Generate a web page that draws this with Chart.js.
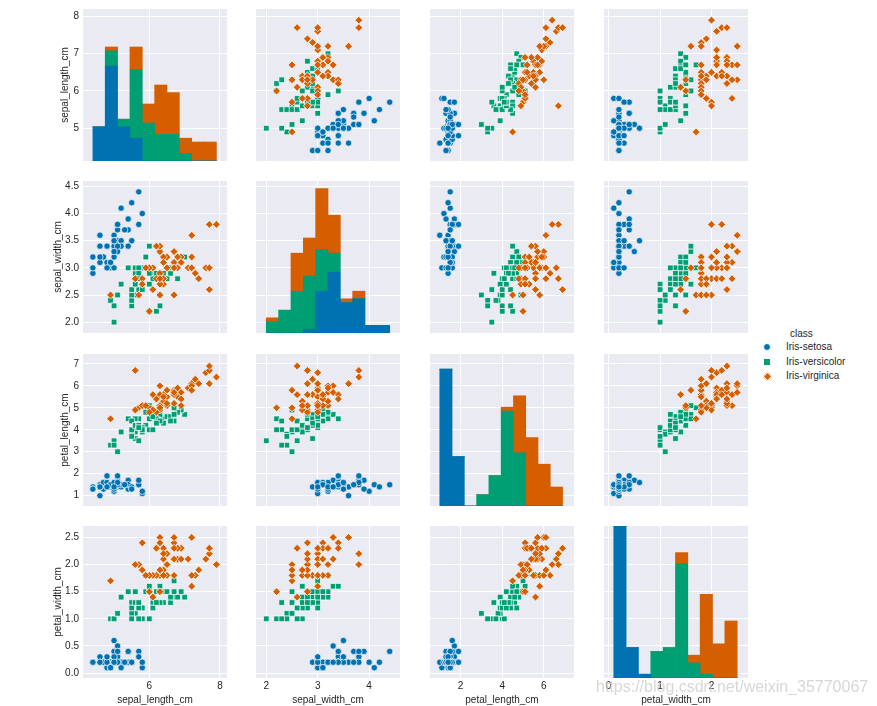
<!DOCTYPE html>
<html>
<head>
<meta charset="utf-8">
<script src="https://cdn.jsdelivr.net/npm/chart.js@4.4.0/dist/chart.umd.min.js"></script>
<style>
  body { margin: 0; background: #fff; width: 877px; height: 706px; position: relative; overflow: hidden;
         font-family: "Liberation Sans", Arial, sans-serif; color: #262626; }
  canvas { position: absolute; }
  .legend { position: absolute; left: 0; top: 0; font-size: 10px; }
  .legend div { position: absolute; white-space: nowrap; line-height: 12px; }
  .mk { position: absolute; border: 0.7px solid #fff; box-sizing: content-box; }
  .mark { position: absolute; left: 596px; top: 678px; font-size: 16px; color: rgba(205,205,205,0.8);
          white-space: nowrap; z-index: 5; }
</style>
</head>
<body>
<div class="legend" id="legend"></div>
<div class="mark">https://blog.csdn.net/weixin_35770067</div>
<script>
const varNames = ["sepal_length_cm", "sepal_width_cm", "petal_length_cm", "petal_width_cm"];
const classNames = ["Iris-setosa", "Iris-versicolor", "Iris-virginica"];
const colors = ["#0072b2", "#009e73", "#d55e00"];

// measurements per class
const setosaSepalLength = [5.1,4.9,4.7,4.6,5.0,5.4,4.6,5.0,4.4,4.9,5.4,4.8,4.8,5.8,5.8,5.7,5.4,5.1,5.7,5.1,
  5.4,5.1,4.6,5.1,4.8,5.0,5.0,5.2,5.2,4.7,4.8,5.4,5.2,5.5,4.9,5.0,5.5,4.9,4.4,5.1,5.0,4.4,5.0,5.1,4.8,5.1,4.6,5.3,5.0];
const setosaSepalWidth = [3.5,3.0,3.2,3.1,3.6,3.9,3.4,3.4,2.9,3.1,3.7,3.4,3.0,3.0,4.0,4.4,3.9,3.5,3.8,3.8,
  3.4,3.7,3.6,3.3,3.4,3.0,3.4,3.5,3.4,3.2,3.1,3.4,4.1,4.2,3.1,3.2,3.5,3.1,3.0,3.4,3.5,3.2,3.5,3.8,3.0,3.8,3.2,3.7,3.3];
const setosaPetalLength = [1.4,1.4,1.3,1.5,1.4,1.7,1.4,1.5,1.4,1.5,1.5,1.6,1.4,1.1,1.2,1.5,1.3,1.4,1.7,1.5,
  1.7,1.5,1.0,1.7,1.9,1.6,1.6,1.5,1.4,1.6,1.6,1.5,1.5,1.4,1.5,1.2,1.3,1.5,1.3,1.5,1.3,1.3,1.6,1.9,1.4,1.6,1.4,1.5,1.4];
const setosaPetalWidth = [0.2,0.2,0.2,0.2,0.2,0.4,0.3,0.2,0.2,0.1,0.2,0.2,0.1,0.1,0.2,0.4,0.4,0.3,0.3,0.3,
  0.2,0.4,0.2,0.5,0.2,0.2,0.4,0.2,0.2,0.2,0.2,0.4,0.1,0.2,0.1,0.2,0.2,0.1,0.2,0.2,0.3,0.2,0.6,0.4,0.3,0.2,0.2,0.2,0.2];

const versicolorSepalLength = [7.0,6.4,6.9,5.5,6.5,5.7,6.3,4.9,6.6,5.2,5.0,5.9,6.0,6.1,5.6,6.7,5.6,5.8,6.2,5.6,
  5.9,6.1,6.3,6.1,6.4,6.6,6.8,6.7,6.0,5.7,5.5,5.5,5.8,6.0,5.4,6.0,6.7,6.3,5.6,5.5,5.5,6.1,5.8,5.0,5.6,5.7,5.7,6.2,5.1,5.7];
const versicolorSepalWidth = [3.2,3.2,3.1,2.3,2.8,2.8,3.3,2.4,2.9,2.7,2.0,3.0,2.2,2.9,2.9,3.1,3.0,2.7,2.2,2.5,
  3.2,2.8,2.5,2.8,2.9,3.0,2.8,3.0,2.9,2.6,2.4,2.4,2.7,2.7,3.0,3.4,3.1,2.3,3.0,2.5,2.6,3.0,2.6,2.3,2.7,3.0,2.9,2.9,2.5,2.8];
const versicolorPetalLength = [4.7,4.5,4.9,4.0,4.6,4.5,4.7,3.3,4.6,3.9,3.5,4.2,4.0,4.7,3.6,4.4,4.5,4.1,4.5,3.9,
  4.8,4.0,4.9,4.7,4.3,4.4,4.8,5.0,4.5,3.5,3.8,3.7,3.9,5.1,4.5,4.5,4.7,4.4,4.1,4.0,4.4,4.6,4.0,3.3,4.2,4.2,4.2,4.3,3.0,4.1];
const versicolorPetalWidth = [1.4,1.5,1.5,1.3,1.5,1.3,1.6,1.0,1.3,1.4,1.0,1.5,1.0,1.4,1.3,1.4,1.5,1.0,1.5,1.1,
  1.8,1.3,1.5,1.2,1.3,1.4,1.4,1.7,1.5,1.0,1.1,1.0,1.2,1.6,1.5,1.6,1.5,1.3,1.3,1.3,1.2,1.4,1.2,1.0,1.3,1.2,1.3,1.3,1.1,1.3];

const virginicaSepalLength = [6.3,5.8,7.1,6.3,6.5,7.6,4.9,7.3,6.7,7.2,6.5,6.4,6.8,5.7,5.8,6.4,6.5,7.7,7.7,6.0,
  6.9,5.6,5.6,6.3,6.7,7.2,6.2,6.1,6.4,7.2,7.4,7.9,6.4,6.3,6.1,7.7,6.3,6.4,6.0,6.9,6.7,6.9,5.8,6.8,6.7,6.7,6.3,6.5,6.2,5.9];
const virginicaSepalWidth = [3.3,2.7,3.0,2.9,3.0,3.0,2.5,2.9,2.5,3.6,3.2,2.7,3.0,2.5,2.8,3.2,3.0,3.8,2.6,2.2,
  3.2,2.8,2.8,2.7,3.3,3.2,2.8,3.0,2.8,3.0,2.8,3.8,2.8,2.8,2.6,3.0,3.4,3.1,3.0,3.1,3.1,3.1,2.7,3.2,3.3,3.0,2.5,3.0,3.4,3.0];
const virginicaPetalLength = [6.0,5.1,5.9,5.6,5.8,6.6,4.5,6.3,5.8,6.1,5.1,5.3,5.5,5.0,5.1,5.3,5.5,6.7,6.9,5.0,
  5.7,4.9,6.7,4.9,5.7,6.0,4.8,4.9,5.6,5.8,6.1,6.4,5.6,5.1,5.6,6.1,5.6,5.5,4.8,5.4,5.6,5.1,5.1,5.9,5.7,5.2,5.0,5.2,5.4,5.1];
const virginicaPetalWidth = [2.5,1.9,2.1,1.8,2.2,2.1,1.7,1.8,1.8,2.5,2.0,1.9,2.1,2.0,2.4,2.3,1.8,2.2,2.3,1.5,
  2.3,2.0,2.0,1.8,2.1,1.8,1.8,1.8,2.1,1.6,1.9,2.0,2.2,1.5,1.4,2.3,2.4,1.8,1.8,2.1,2.4,2.3,1.9,2.3,2.5,2.3,1.9,2.0,2.3,1.8];

// histogram bin edges and stacked counts (setosa, versicolor, virginica)
const sepalLengthEdges = [4.4,4.75,5.1,5.45,5.8,6.15,6.5,6.85,7.2,7.55,7.9];
const sepalWidthEdges = [2.0,2.24,2.48,2.72,2.96,3.2,3.44,3.68,3.92,4.16,4.4];
const petalLengthEdges = [1.0,1.59,2.18,2.77,3.36,3.95,4.54,5.13,5.72,6.31,6.9];
const petalWidthEdges = [0.1,0.34,0.58,0.82,1.06,1.3,1.54,1.78,2.02,2.26,2.5];

const sepalLengthSetosa = [9,25,9,6,0,0,0,0,0,0];
const sepalLengthVersicolor = [0,4,2,18,10,7,7,2,0,0];
const sepalLengthVirginica = [0,1,0,6,5,13,11,4,5,5];
const sepalWidthSetosa = [0,0,0,1,11,16,8,9,2,2];
const sepalWidthVersicolor = [3,6,11,14,11,5,0,0,0,0];
const sepalWidthVirginica = [1,0,10,10,16,10,1,2,0,0];
const petalLengthSetosa = [36,13,0,0,0,0,0,0,0,0];
const petalLengthVersicolor = [0,0,0,3,8,25,14,0,0,0];
const petalLengthVirginica = [0,0,0,0,0,1,15,18,11,5];
const petalWidthSetosa = [40,8,1,0,0,0,0,0,0,0];
const petalWidthVersicolor = [0,0,0,7,8,30,4,1,0,0];
const petalWidthVirginica = [0,0,0,0,0,3,2,21,9,15];

// tick values
const xTicks = [[6, 8], [2, 3, 4], [2, 4, 6], [0, 1, 2]];
const yTicks = [[5, 6, 7, 8], [2.0, 2.5, 3.0, 3.5, 4.0, 4.5], [1, 2, 3, 4, 5, 6, 7], [0.0, 0.5, 1.0, 1.5, 2.0, 2.5]];
const yDigits = [0, 1, 0, 1];

const columns = [
  [setosaSepalLength, versicolorSepalLength, virginicaSepalLength],
  [setosaSepalWidth, versicolorSepalWidth, virginicaSepalWidth],
  [setosaPetalLength, versicolorPetalLength, virginicaPetalLength],
  [setosaPetalWidth, versicolorPetalWidth, virginicaPetalWidth]
];
const edges = [sepalLengthEdges, sepalWidthEdges, petalLengthEdges, petalWidthEdges];
const hists = [
  [sepalLengthSetosa, sepalLengthVersicolor, sepalLengthVirginica],
  [sepalWidthSetosa, sepalWidthVersicolor, sepalWidthVirginica],
  [petalLengthSetosa, petalLengthVersicolor, petalLengthVirginica],
  [petalWidthSetosa, petalWidthVersicolor, petalWidthVirginica]
];

// layout
const axisMin = [4.12, 1.8, 0.53, -0.09];
const axisMax = [8.2, 4.6, 7.45, 2.71];
const colLeft = [83, 256, 430, 604];
const rowTop = [9, 181, 354, 526];
const panelW = 144, panelH = 152;
const leftAxisW = 83, bottomAxisH = 28;
const yTitleGap = [59, 52, 59, 52];
const histMax = 40;

Chart.defaults.font.family = "'Liberation Sans', Arial, sans-serif";
Chart.defaults.font.size = 10;
Chart.defaults.color = "#262626";

function noPad(s) {
  s.paddingTop = 0; s.paddingBottom = 0; s.paddingLeft = 0; s.paddingRight = 0;
}

function xScale(r, c) {
  return {
    type: "linear", min: axisMin[c], max: axisMax[c], offset: false,
    grid: { color: "#ffffff", lineWidth: 1, drawTicks: false, offset: false },
    border: { display: false },
    ticks: { display: r === 3, padding: 2, autoSkip: false, maxRotation: 0, callback: v => v.toFixed(0) },
    title: { display: r === 3, text: varNames[c], padding: 0 },
    afterBuildTicks: s => { s.ticks = xTicks[c].map(v => ({ value: v })); },
    afterFit: s => { s.height = r === 3 ? bottomAxisH : 0; noPad(s); }
  };
}

function yScale(r, c) {
  return {
    type: "linear", min: axisMin[r], max: axisMax[r], offset: false,
    grid: { color: "#ffffff", lineWidth: 1, drawTicks: false, offset: false },
    border: { display: false },
    ticks: { display: c === 0, padding: 4, autoSkip: false, callback: v => v.toFixed(yDigits[r]) },
    title: { display: c === 0, text: varNames[r], padding: { top: yTitleGap[r], bottom: 0 } },
    afterBuildTicks: s => { s.ticks = yTicks[r].map(v => ({ value: v })); },
    afterFit: s => { s.width = c === 0 ? leftAxisW : 0; noPad(s); }
  };
}

const shapes = ["circle", "rect", "rectRot"];
const radii = [3.2, 4, 3.9];

for (let r = 0; r < 4; r++) {
  for (let c = 0; c < 4; c++) {
    const canvas = document.createElement("canvas");
    const w = panelW + (c === 0 ? leftAxisW : 0);
    const h = panelH + (r === 3 ? bottomAxisH : 0);
    canvas.width = w;
    canvas.height = h;
    canvas.style.left = (colLeft[c] - (c === 0 ? leftAxisW : 0)) + "px";
    canvas.style.top = rowTop[r] + "px";
    canvas.style.width = w + "px";
    canvas.style.height = h + "px";
    document.body.appendChild(canvas);

    const bg = {
      id: "bg",
      beforeDraw(chart) {
        const a = chart.chartArea;
        chart.ctx.save();
        chart.ctx.fillStyle = "#eaeaf2";
        chart.ctx.fillRect(a.left, a.top, a.right - a.left, a.bottom - a.top);
        chart.ctx.restore();
      }
    };

    let config;
    if (r === c) {
      const e = edges[c];
      const centers = e.slice(0, -1).map((v, i) => (v + e[i + 1]) / 2);
      config = {
        type: "bar",
        data: {
          datasets: classNames.map((name, k) => ({
            label: name,
            data: centers.map((x, i) => ({ x: x, y: hists[c][k][i] })),
            backgroundColor: colors[k],
            borderWidth: 0,
            barPercentage: 1,
            categoryPercentage: 1,
            yAxisID: "yh",
            stack: "h"
          }))
        },
        options: {
          scales: {
            x: xScale(r, c),
            y: yScale(r, c),
            yh: { type: "linear", display: false, min: 0, max: histMax, stacked: true }
          }
        }
      };
    } else {
      config = {
        type: "scatter",
        data: {
          datasets: classNames.map((name, k) => ({
            label: name,
            data: columns[c][k].map((x, i) => ({ x: x, y: columns[r][k][i] })),
            backgroundColor: colors[k],
            borderColor: "#ffffff",
            borderWidth: 0.7,
            pointStyle: shapes[k],
            pointRadius: radii[k],
            order: 3 - k
          }))
        },
        options: {
          scales: { x: xScale(r, c), y: yScale(r, c) }
        }
      };
    }
    config.options.responsive = false;
    config.options.animation = false;
    config.options.events = [];
    config.options.devicePixelRatio = 1;
    config.options.layout = { padding: 0, autoPadding: false };
    config.options.plugins = { legend: { display: false }, tooltip: { enabled: false } };
    config.plugins = [bg];
    new Chart(canvas, config);
  }
}

// legend
const legend = document.getElementById("legend");
const legendRows = [347, 362, 376];
const title = document.createElement("div");
title.textContent = "class";
title.style.left = "790px";
title.style.top = "328px";
legend.appendChild(title);
classNames.forEach((name, k) => {
  const mk = document.createElement("span");
  mk.className = "mk";
  const s = k === 2 ? 5 : 6;
  mk.style.width = s + "px";
  mk.style.height = s + "px";
  mk.style.background = colors[k];
  mk.style.left = (767 - s / 2 - 0.7) + "px";
  mk.style.top = (legendRows[k] - s / 2 - 0.7) + "px";
  if (k === 0) mk.style.borderRadius = "50%";
  if (k === 2) mk.style.transform = "rotate(45deg)";
  legend.appendChild(mk);
  const t = document.createElement("div");
  t.textContent = name;
  t.style.left = "786px";
  t.style.top = (legendRows[k] - 6) + "px";
  legend.appendChild(t);
});
</script>
</body>
</html>
